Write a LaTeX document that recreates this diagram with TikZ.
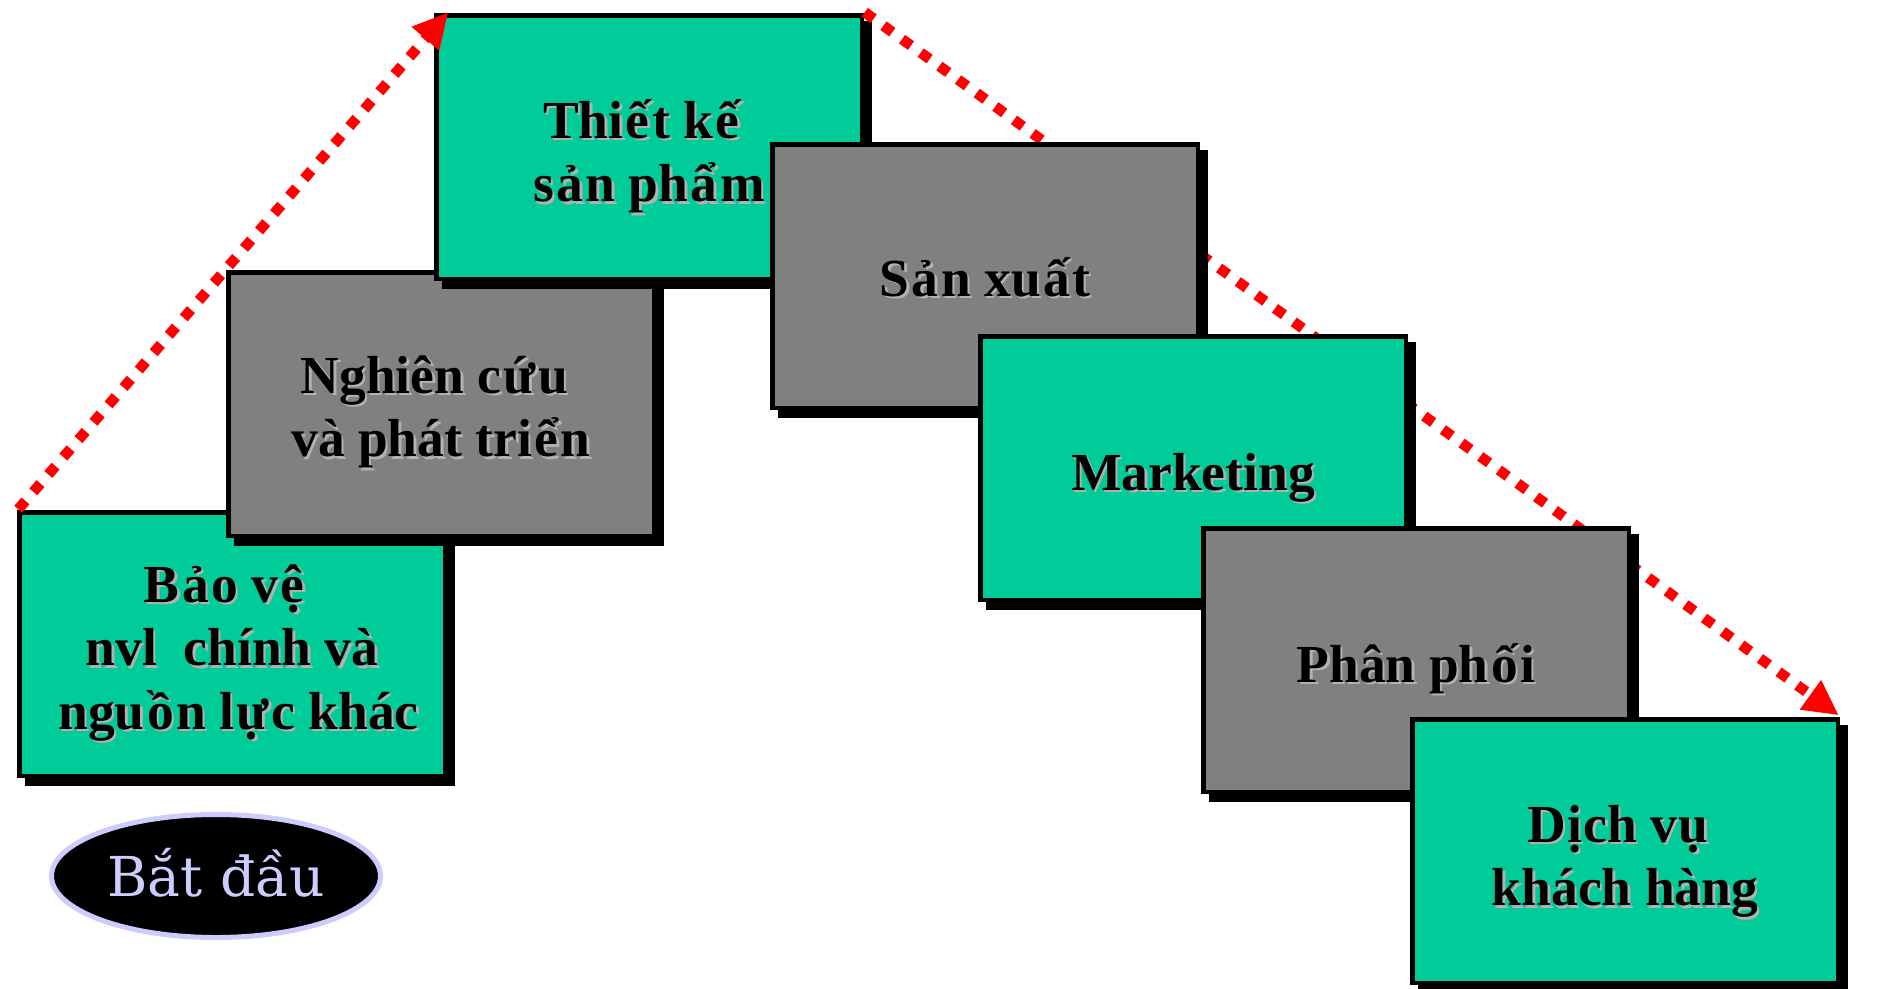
\documentclass[tikz,border=0pt]{standalone}
\usepackage{fontspec}
\setmainfont{Liberation Serif}
\newfontfamily\dvserif{DejaVu Serif}
\usetikzlibrary{arrows.meta,calc,shapes.geometric}
\pgfdeclarelayer{low}
\pgfdeclarelayer{mid}
\pgfsetlayers{low,mid,main}
\definecolor{boxgreen}{HTML}{00CC99}
\definecolor{boxgray}{HTML}{808080}
\definecolor{lavender}{HTML}{CCCCFF}
\definecolor{shgray}{HTML}{B2B2B2}
\definecolor{dotred}{HTML}{FF0000}
\tikzset{
  stepbox/.style={rectangle, draw=black, line width=4.5pt, minimum width=425.5pt, minimum height=263.5pt,
    inner sep=0pt, outer sep=0pt,
    preaction={fill=black, draw=black, transform canvas={shift={(8pt,-8pt)}}}},
  greenbox/.style={stepbox, fill=boxgreen},
  graybox/.style={stepbox, fill=boxgray},
  btxt/.style={anchor=base, align=center, inner sep=0pt, font=\fontsize{53.5}{63.5}\selectfont\bfseries},
  flow/.style={draw=dotred, line width=10.5pt, dash pattern=on 11pt off 12pt,
    -{Triangle[length=35pt,width=34pt]}},
  startoval/.style={ellipse, draw=lavender, fill=black, line width=5pt, minimum width=329pt,
    minimum height=123pt, inner sep=0pt, text=lavender, font=\dvserif\fontsize{55}{66}\selectfont,
    text height=40pt, text depth=0pt}
}
% a little extra room round Vietnamese letters with stacked marks, as in the reference
\newcommand\vl[1]{\kern2.5pt#1\kern2.5pt}
\newcommand\vs[1]{\kern1.5pt#1\kern1.5pt}
% the base anchor of a multi-line node is the baseline of its last line
\newcommand\steptext[3]{%
  \node[btxt, text=shgray] at ($#1+(2.5,2.5)$) {#3};
  \node[btxt] (#2) at ($#1$) {#3};}
\begin{document}
\begin{tikzpicture}[x=1pt,y=-1pt]
\useasboundingbox (0,0) rectangle (1895,988);
% boxes 1-3 (below the dotted arrows)
\begin{pgfonlayer}{low}
\node[greenbox] (b1) at (232,644) {};
\steptext{(b1.north)+(0,217)}{t1}{B\vl{ả}o v\vl{ệ}\hspace*{13pt}\\nvl\ \ chính và\\\hspace*{13pt}ngu\vl{ồ}n l\vl{ự}c khác}
\node[graybox] (b2) at (441,404) {};
\steptext{(b2.north)+(0,184.5)}{t2}{Nghiên c\vl{ứ}u\hspace*{13pt}\\và phát tri\vl{ể}n}
\node[greenbox] (b3) at (649,147) {};
\steptext{(b3.north)+(0,186.5)}{t3}{Thi\vl{ế}t k\vl{ế}\hspace*{13pt}\\s\vl{ả}n ph\vl{ẩ}m}
\end{pgfonlayer}
% boxes 4-7 (above the dotted arrows)
\node[graybox] (b4) at (985,276) {};
\steptext{(b4.north)+(0,152)}{t4}{S\vl{ả}n xu\vl{ấ}t}
\node[greenbox] (b5) at (1193,468) {};
\steptext{(b5.north)+(0,154)}{t5}{Marketing}
\node[graybox] (b6) at (1416,660) {};
\steptext{(b6.north)+(0,154)}{t6}{Phân ph\vl{ố}i}
\node[greenbox] (b7) at (1625,851) {};
\steptext{(b7.north)+(0,186.5)}{t7}{D\vs{ị}ch v\vs{ụ}\hspace*{13pt}\\khách hàng}
% dotted arrows
\begin{pgfonlayer}{mid}
\coordinate (l1s) at ($(b1.north west)+(-1,-3)$);
\coordinate (l1e) at ($(b3.north west)+(12,-3)$);
\draw[flow] (l1s) -- (l1e);
\coordinate (l2s) at ($(b3.north east)+(3,-3)$);
\coordinate (l2e) at ($(b7.north east)+(1,-4)$);
\draw[flow] (l2s) -- (l2e);
\end{pgfonlayer}
% start oval
\node[startoval] (start) at (216,876) {Bắt đầu};
\end{tikzpicture}
\end{document}
